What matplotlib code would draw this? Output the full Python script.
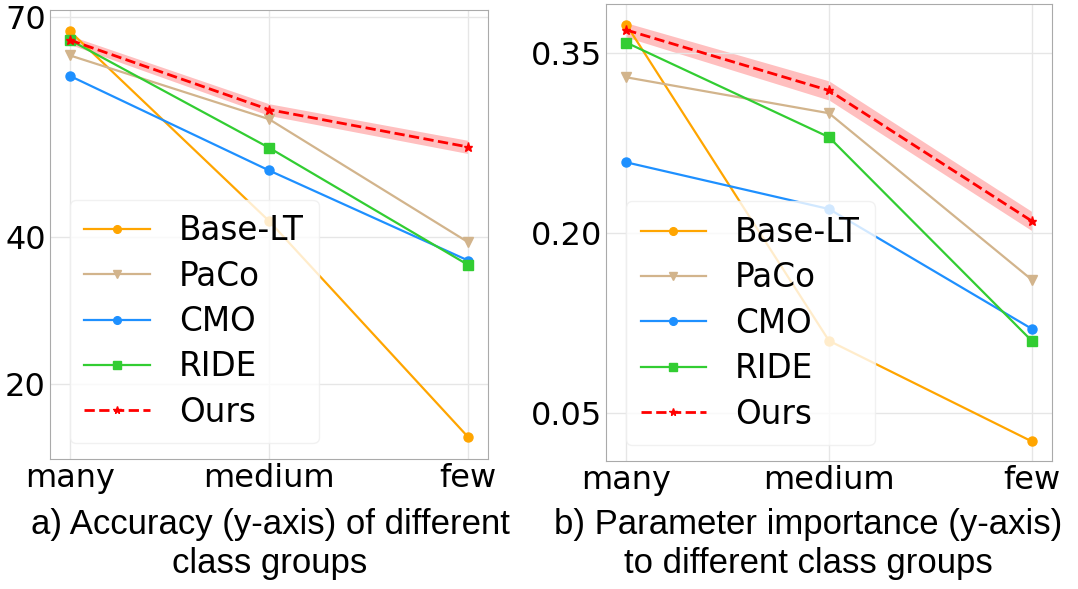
import numpy as np
import matplotlib
matplotlib.use("Agg")
import matplotlib.pyplot as plt

groups = ["many", "medium", "few"]
methods = ["Base-LT", "PaCo", "CMO", "RIDE", "Ours"]

acc = {
    "Base-LT": [68.1, 42.2, 12.7],
    "PaCo": [64.8, 56.1, 39.3],
    "CMO": [62.0, 49.1, 36.8],
    "RIDE": [66.9, 52.2, 36.2],
    "Ours": [66.9, 57.4, 52.3],
}
acc_band = [0.6, 0.8, 0.9]

imp = {
    "Base-LT": [0.374, 0.110, 0.026],
    "PaCo": [0.330, 0.300, 0.161],
    "CMO": [0.259, 0.220, 0.120],
    "RIDE": [0.359, 0.280, 0.110],
    "Ours": [0.3695, 0.319, 0.210],
}
imp_band = [0.006, 0.008, 0.008]

acc_ticks = [20, 40, 70]
imp_ticks = [0.05, 0.20, 0.35]

styles = {
    "Base-LT": dict(color="orange", marker="o", ls="-"),
    "PaCo": dict(color="tan", marker="v", ls="-"),
    "CMO": dict(color="dodgerblue", marker="o", ls="-"),
    "RIDE": dict(color="limegreen", marker="s", ls="-"),
    "Ours": dict(color="red", marker="*", ls="--"),
}

fig = plt.figure(figsize=(10.78, 5.89), dpi=100)
ax1 = fig.add_axes([50/1078, 130/589, 438/1078, 449/589])
ax2 = fig.add_axes([606/1078, 128/589, 446/1078, 457/589])

x = np.arange(len(groups))


def draw(ax, data, band, ticks, ylim, fmt):
    for m in methods:
        st = styles[m]
        ax.plot(x, data[m], color=st["color"], marker=st["marker"], linestyle=st["ls"],
                lw=1.6 if m != "Ours" else 2, markersize=6.5, label=m, zorder=3 if m == "Ours" else 2)
    ours = np.array(data["Ours"])
    ax.fill_between(x, ours - np.array(band), ours + np.array(band), color="red", alpha=0.25,
                    lw=0, zorder=1)
    ax.set_xticks(x)
    ax.set_xticklabels(groups, fontsize=23)
    ax.set_yticks(ticks)
    ax.set_yticklabels([fmt.format(t) for t in ticks], fontsize=23)
    ax.set_ylim(*ylim)
    ax.set_xlim(-0.1, 2.1)
    ax.grid(True, color="#e6e6e6", lw=1)
    ax.tick_params(length=0, pad=3)
    for s in ax.spines.values():
        s.set_color("#aaaaaa")
    ax.legend(loc="lower left", fontsize=23.5, framealpha=0.8, edgecolor="#eeeeee",
              borderaxespad=0.2, labelspacing=0.38, handlelength=2.0, handletextpad=0.9,
              borderpad=0.45, markerscale=0.85, bbox_to_anchor=(0.03, 0.02))


draw(ax1, acc, acc_band, acc_ticks, (9.7, 71.0), "{:g}")
draw(ax2, imp, imp_band, imp_ticks, (0.0096, 0.3912), "{:.2f}")

cap_font = ["Liberation Sans Narrow", "Liberation Sans", "DejaVu Sans"]
fig.text(270/1078, 1 - 544/589, "a) Accuracy (y-axis) of different\nclass groups", ha="center",
         va="center", fontsize=25, family=cap_font, linespacing=1.25)
fig.text(808/1078, 1 - 544/589, "b) Parameter importance (y-axis)\nto different class groups", ha="center",
         va="center", fontsize=25, family=cap_font, linespacing=1.25)

fig.savefig("out.png", dpi=100)
